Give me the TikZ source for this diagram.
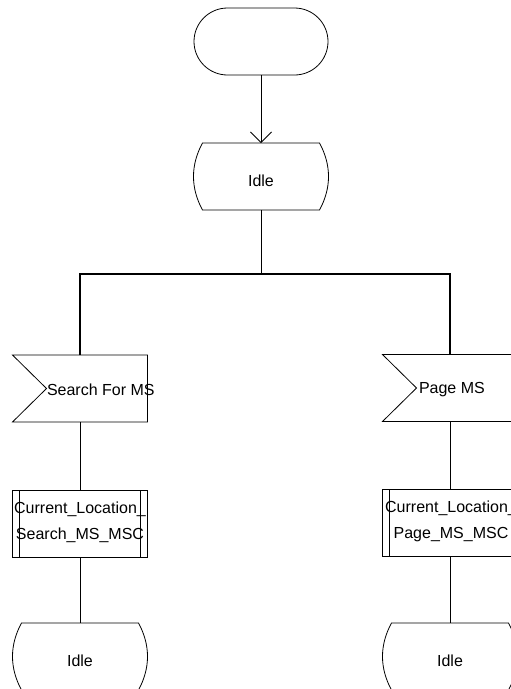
\documentclass[tikz,border=0pt]{standalone}
\usepackage{fontspec}
\setmainfont{Liberation Sans}
\usetikzlibrary{shapes.misc,arrows.meta}

\tikzset{
  shapebox/.style={rectangle, minimum width=135pt, minimum height=67pt, inner sep=0pt, outer sep=0pt},
  termbox/.style={rounded rectangle, draw, line width=0.8pt, minimum width=134pt, minimum height=67pt, inner sep=0pt, outer sep=0pt},
  procbox/.style={shapebox, draw, line width=0.8pt},
  lbl/.style={font=\fontsize{16}{26}\selectfont, inner sep=0pt, outer sep=0pt},
  flowline/.style={line width=0.8pt},
  busline/.style={line width=2pt},
  outline/.style={line width=0.8pt},
  openhead/.style={-{Straight Barb[length=10.5pt,width=21pt,line width=0.8pt]}}
}

% SDL state symbol: straight top and bottom, bulging sides
\newcommand\stateoutline[1]{%
  \draw[outline] ([xshift=9pt]#1.north west) -- ([xshift=-9pt]#1.north east)
    .. controls ([xshift=3pt,yshift=-22pt]#1.north east) and ([xshift=3pt,yshift=22pt]#1.south east) .. ([xshift=-9pt]#1.south east)
    -- ([xshift=9pt]#1.south west)
    .. controls ([xshift=-3pt,yshift=22pt]#1.south west) and ([xshift=-3pt,yshift=-22pt]#1.north west) .. cycle;}
% SDL input symbol: notched on the left
\newcommand\inputoutline[1]{%
  \draw[outline] (#1.north west) -- (#1.north east) -- (#1.south east) -- (#1.south west)
    -- ([xshift=34pt]#1.west) -- cycle;}
% SDL procedure call: box with doubled sides
\newcommand\procsides[1]{%
  \draw[outline] ([xshift=7pt]#1.north west) -- ([xshift=7pt]#1.south west);
  \draw[outline] ([xshift=-7pt]#1.north east) -- ([xshift=-7pt]#1.south east);}

\begin{document}
\begin{tikzpicture}[x=1pt,y=-1pt]
\useasboundingbox (0,0) rectangle (511,689);
\clip (0,0) rectangle (511,689);

% start and first state
\node[termbox] (start) at (261,41.5) {};
\node[shapebox] (idle0) at (261,176.5) {};
\stateoutline{idle0}
\node[lbl] (idle0t) at (261,181) {Idle};

% branch points
\coordinate (j0) at (261,274);
\coordinate (jl) at (80,274);
\coordinate (jr) at (450,274);

% inputs
\node[shapebox] (in1) at (80,388.5) {};
\inputoutline{in1}
\node[lbl,anchor=west] (in1t) at (47,390) {Search For MS};
\node[shapebox] (in2) at (450,388) {};
\inputoutline{in2}
\node[lbl,anchor=west] (in2t) at (419,390) {Page MS};

% procedure calls
\node[procbox] (proc1) at (80,523.5) {};
\procsides{proc1}
\node[lbl,align=center] (proc1t) at (80,522) {Current\_Location\_\\Search\_MS\_MSC};
\node[procbox,minimum width=140pt] (proc2) at (452,522.5) {};
\procsides{proc2}
\node[lbl,align=center] (proc2t) at (451,521) {Current\_Location\_\\Page\_MS\_MSC};

% final states
\node[shapebox] (idle1) at (80,656.5) {};
\stateoutline{idle1}
\node[lbl] (idle1t) at (80,661) {Idle};
\node[shapebox] (idle2) at (450,656.5) {};
\stateoutline{idle2}
\node[lbl] (idle2t) at (450,661) {Idle};

% connectors
\draw[flowline,openhead] (start) -- (idle0);
\draw[flowline] (idle0) -- (j0);
\draw[busline] (in1.north) -- (jl) -- (jr) -- (in2.north);
\draw[flowline] (in1) -- (proc1);
\draw[flowline] (proc1) -- (idle1);
\draw[flowline] (in2) -- (proc2.north -| in2);
\draw[flowline] (proc2.south -| in2) -- (idle2);
\end{tikzpicture}
\end{document}
